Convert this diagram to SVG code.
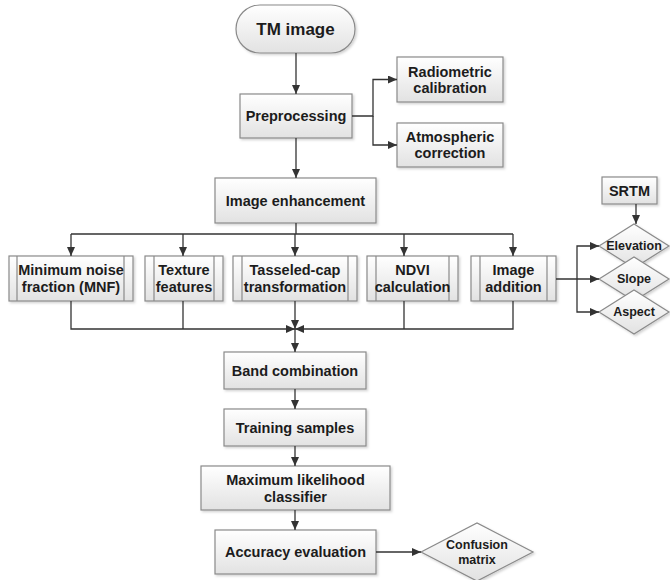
<svg xmlns="http://www.w3.org/2000/svg" width="670" height="580" viewBox="0 0 670 580">
<defs>
<linearGradient id="g" x1="0" y1="0" x2="0" y2="1">
<stop offset="0" stop-color="#ffffff"/>
<stop offset="1" stop-color="#e2e2e2"/>
</linearGradient>
<filter id="sh" x="-10%" y="-10%" width="130%" height="130%">
<feDropShadow dx="1.5" dy="1.5" stdDeviation="1" flood-color="#000" flood-opacity="0.18"/>
</filter>
<marker id="ah" markerUnits="userSpaceOnUse" markerWidth="9" markerHeight="8" refX="9" refY="4" orient="auto">
<path d="M0,0 L9,4 L0,8 z" fill="#333"/>
</marker>
</defs>
<style>
.b{fill:url(#g);stroke:#8a8a8a;stroke-width:1.2;filter:url(#sh)}
.l{fill:none;stroke:#8a8a8a;stroke-width:1.2}
.t{font-family:"Liberation Sans",Arial,sans-serif;font-weight:bold;font-size:14.5px;fill:#1c1c1c;text-anchor:middle;dominant-baseline:central}
.s{font-size:12.5px}
.c{fill:none;stroke:#333;stroke-width:1.3}
.a{marker-end:url(#ah)}
</style>
<rect width="670" height="580" fill="#fff"/>

<g id="tm"><rect class="b" x="236" y="5" width="119" height="48" rx="24"/><text class="t" x="295.5" y="29" style="font-size:17px">TM image</text></g>
<g id="pre"><rect class="b" x="240" y="94" width="112" height="44"/><text class="t" x="296" y="116">Preprocessing</text></g>
<g id="rad"><rect class="b" x="397" y="57" width="106" height="45"/><text class="t" x="450" y="71.5">Radiometric</text><text class="t" x="450" y="87.5">calibration</text></g>
<g id="atm"><rect class="b" x="397" y="123" width="106" height="44"/><text class="t" x="450" y="137">Atmospheric</text><text class="t" x="450" y="153">correction</text></g>
<g id="ie"><rect class="b" x="215" y="178" width="161" height="45"/><text class="t" x="295.5" y="200.5">Image enhancement</text></g>

<g id="mnf"><rect class="b" x="9" y="256" width="124" height="45"/><path class="l" d="M17,256V301M124,256V301"/><text class="t" x="71" y="270">Minimum noise</text><text class="t" x="71" y="287">fraction (MNF)</text></g>
<g id="tex"><rect class="b" x="145" y="256" width="78" height="45"/><path class="l" d="M154,256V301M214,256V301"/><text class="t" x="184" y="270">Texture</text><text class="t" x="184" y="287">features</text></g>
<g id="tcap"><rect class="b" x="233" y="256" width="124" height="45"/><path class="l" d="M242,256V301M348,256V301"/><text class="t" x="295" y="270">Tasseled-cap</text><text class="t" x="295" y="287">transformation</text></g>
<g id="ndvi"><rect class="b" x="367" y="256" width="91" height="45"/><path class="l" d="M376,256V301M449,256V301"/><text class="t" x="412.5" y="270">NDVI</text><text class="t" x="412.5" y="287">calculation</text></g>
<g id="add"><rect class="b" x="471" y="256" width="85" height="45"/><path class="l" d="M480,256V301M547,256V301"/><text class="t" x="513.5" y="270">Image</text><text class="t" x="513.5" y="287">addition</text></g>

<g id="srtm"><rect class="b" x="602" y="177" width="55" height="27"/><text class="t" x="629.5" y="190.5">SRTM</text></g>
<g id="elev"><polygon class="b" points="599,246 634,224 669,246 634,268"/><text class="t s" x="634" y="246">Elevation</text></g>
<g id="slope"><polygon class="b" points="599,279 634,257 669,279 634,301"/><text class="t s" x="634" y="279">Slope</text></g>
<g id="aspect"><polygon class="b" points="599,312 634,290 669,312 634,334"/><text class="t s" x="634" y="312">Aspect</text></g>

<g id="band"><rect class="b" x="224" y="352" width="142" height="37"/><text class="t" x="295" y="370.5">Band combination</text></g>
<g id="train"><rect class="b" x="224" y="409" width="142" height="37"/><text class="t" x="295" y="427.5">Training samples</text></g>
<g id="mlc"><rect class="b" x="201" y="466" width="189" height="44"/><text class="t" x="295.5" y="479.5">Maximum likelihood</text><text class="t" x="295.5" y="496.5">classifier</text></g>
<g id="acc"><rect class="b" x="215" y="530" width="161" height="44"/><text class="t" x="295.5" y="552">Accuracy evaluation</text></g>
<g id="conf"><polygon class="b" points="421,552 477,523 533,552 477,581"/><text class="t s" x="477" y="545">Confusion</text><text class="t s" x="477" y="560">matrix</text></g>

<g id="connectors">
<path class="c a" d="M296,53V94"/>
<path class="c a" d="M352,116H373V79.5H397"/>
<path class="c a" d="M373,116V145H397"/>
<path class="c a" d="M296,138V178"/>
<path class="c" d="M296,223V234M71,234H513"/>
<path class="c a" d="M71,234V256"/>
<path class="c a" d="M183,234V256"/>
<path class="c a" d="M295,234V256"/>
<path class="c a" d="M404,234V256"/>
<path class="c a" d="M513,234V256"/>
<path class="c" d="M183,301V329"/>
<path class="c" d="M404,301V329"/>
<path class="c a" d="M71,301V329H295"/>
<path class="c a" d="M513,301V329H295"/>
<path class="c a" d="M295,301V329"/>
<path class="c a" d="M295,329V352"/>
<path class="c a" d="M295,389V409"/>
<path class="c a" d="M295,446V466"/>
<path class="c a" d="M295,510V530"/>
<path class="c a" d="M376,552H421"/>
<path class="c a" d="M556,279H599"/>
<path class="c a" d="M577,279V246H599"/>
<path class="c a" d="M577,279V312H599"/>
<path class="c a" d="M636,204V224"/>
</g>
</svg>
